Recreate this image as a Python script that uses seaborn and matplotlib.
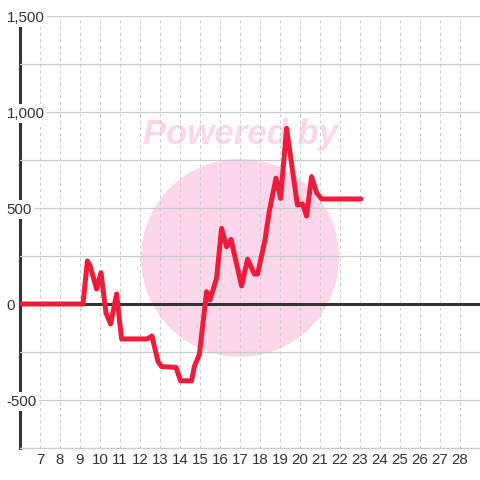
import matplotlib
matplotlib.use("Agg")
import matplotlib.pyplot as plt
import seaborn as sns
from matplotlib.patches import Ellipse
from matplotlib.ticker import FuncFormatter, MultipleLocator

# data
hours = [6.0, 9.15, 9.37, 9.5, 9.83, 10.05, 10.3, 10.53, 10.83, 11.08,
         12.35, 12.6, 12.9, 13.08, 13.8, 14.03, 14.58, 14.72, 14.97, 15.33,
         15.5, 15.83, 16.08, 16.33, 16.55, 17.08, 17.38, 17.72, 17.88, 18.25,
         18.45, 18.8, 19.03, 19.33, 19.67, 19.87, 20.13, 20.33, 20.58, 20.83,
         21.08, 23.05]
values = [0, 0, 224, 200, 78, 163, -47, -104, 52, -182,
          -182, -167, -300, -326, -330, -400, -400, -326, -262, 64,
          21, 134, 394, 298, 337, 94, 233, 156, 156, 333,
          474, 655, 550, 915, 663, 516, 521, 458, 663, 580,
          547, 547]
x_ticks = list(range(7, 29))
y_ticks = [-500, 0, 500, 1000, 1500]

sns.set_theme(style="white")
plt.rcParams['font.family'] = ['Liberation Sans', 'DejaVu Sans']

fig = plt.figure(figsize=(4.8, 4.8), dpi=100)
fig.patch.set_facecolor("white")
ax = fig.add_axes([20 / 480, 32 / 480, 460 / 480, 432 / 480])
ax.set_facecolor("white")

# watermark
pink = "#fcd6eb"
ax.add_patch(Ellipse((17.0, 240), 9.9, 1031, facecolor=pink, edgecolor="none", zorder=0.3))
ax.text(17.05, 885, "Powered by", color=pink, fontsize=25, fontweight="heavy",
        fontstyle="italic", ha="center", va="center", zorder=0.4)

ax.axhline(0, color="#333333", lw=2.2, zorder=2.6)
sns.lineplot(x=hours, y=values, ax=ax, color="#ed1c3a", lw=3.6, zorder=3)

ax.set_xlim(6, 29)
ax.set_ylim(-750, 1500)
ax.set_xticks(x_ticks)
ax.set_xticklabels([str(t) for t in x_ticks])
ax.set_yticks(y_ticks)
ax.yaxis.set_minor_locator(MultipleLocator(250))
ax.yaxis.set_major_formatter(FuncFormatter(lambda v, p: f"{v:,.0f}"))

ax.grid(axis="x", color="#cccccc", lw=0.75, linestyle=(0, (3, 3)))
ax.grid(axis="y", which="both", color="#cccccc", lw=0.9, linestyle="-")

ax.tick_params(axis="both", which="both", length=0, labelsize=10.8, labelcolor="#333333")
ax.tick_params(axis="x", pad=3.4)
ax.tick_params(axis="y", pad=9.5)

for side in ["top", "right"]:
    ax.spines[side].set_visible(False)
ax.spines["bottom"].set_color("#cccccc")
ax.spines["bottom"].set_linewidth(0.9)
ax.spines["left"].set_color("#333333")
ax.spines["left"].set_linewidth(2.2)
ax.spines["left"].set_zorder(1.4)
ax.xaxis.set_zorder(0.5)
ax.yaxis.set_zorder(2.5)

ax.set_xlabel("")
ax.set_ylabel("")

fig.canvas.draw()
for tick in ax.yaxis.get_major_ticks():
    tick.label1.set_horizontalalignment("left")
    tick.label1.set_bbox(dict(facecolor="white", edgecolor="none", pad=1.5))

plt.savefig("out.png", dpi=100)
